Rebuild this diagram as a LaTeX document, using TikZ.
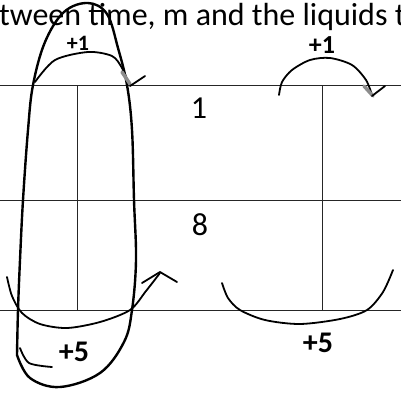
\documentclass[tikz,border=0pt]{standalone}
\usepackage{fontspec}
\setmainfont{Carlito}
\usetikzlibrary{positioning}

\begin{document}
\begin{tikzpicture}[
  x=1pt, y=-1pt,
  every node/.style={text=black, font=\fontsize{32}{38}\selectfont},
  rule/.style={black!85, line width=0.9pt},
  pen/.style={black, line width=2.4pt, line cap=round, line join=round},
  smudge/.style={black!45, line width=3.5pt, line cap=round},
  scrawl/.style={font=\fontsize{30}{34}\selectfont\bfseries, inner sep=0pt},
]

% Page frame
\useasboundingbox (0,0) rectangle (401,392);
\clip (0,0) rectangle (401,392);

% Caption line cut off at the top
\node[anchor=base west, inner sep=0pt] (caption) at (-1,25) {tween time, m and the liquids t};

% Table rules
\draw[rule] (0,85) -- (401,85);
\draw[rule] (0,200) -- (401,200);
\draw[rule] (0,310) -- (401,310);
\draw[rule] (77,85) -- (77,310);
\draw[rule] (322,85) -- (322,310);

% Cell values
\node (one) at (199,108) {1};
\node (eight) at (200,225) {8};

% Tall loop round the first column
\draw[pen] plot[smooth, tension=0.6] coordinates {
  (17,355) (18,310) (20,260) (23,200) (28,130) (33,85) (45,42) (64,12) (88,3)
  (107,14) (118,48) (127,85) (132,130) (134,200) (136,260) (132,310)
  (124,342) (100,373) (60,387) (30,378) (17,355)};
\draw[pen, line width=1.8pt] plot[smooth] coordinates {(20,348) (29,363) (52,367)};

% Left +1 hop
\draw[pen, line width=1.8pt] plot[smooth] coordinates {(35,82) (55,60) (88,52) (112,56) (122,68) (129,84)};
\draw[smudge] (122,72) -- (130,84);
\draw[pen, line width=1.8pt] (130,86) -- (145,76);
\node[scrawl, font=\fontsize{22}{26}\selectfont\bfseries] (hopleft) at (78,43) {+1};

% Right +1 hop
\draw[pen, line width=1.8pt] plot[smooth] coordinates {(279,95) (282,82) (292,70) (310,60) (330,58) (352,65) (366,80) (372,95)};
\draw[smudge] (364,86) -- (373,96);
\draw[pen, line width=1.8pt] (372,96) -- (385,86);
\node[scrawl, font=\fontsize{26}{30}\selectfont\bfseries] (hopright) at (322,45) {+1};

% Left +5 swing
\draw[pen, line width=1.8pt] plot[smooth] coordinates {(7,277) (12,296) (22,313) (40,324) (67,328) (100,322) (130,310) (146,291) (160,273)};
\draw[pen, line width=1.8pt] (142,283) -- (160,272) -- (177,282);
\node[scrawl] (swingleft) at (74,352) {+5};

% Right +5 swing
\draw[pen, line width=1.8pt] plot[smooth] coordinates {(222,283) (228,298) (240,310) (265,320) (300,324) (340,319) (367,310) (383,292) (393,270)};
\node[scrawl] (swingright) at (318,343) {+5};

\end{tikzpicture}
\end{document}
